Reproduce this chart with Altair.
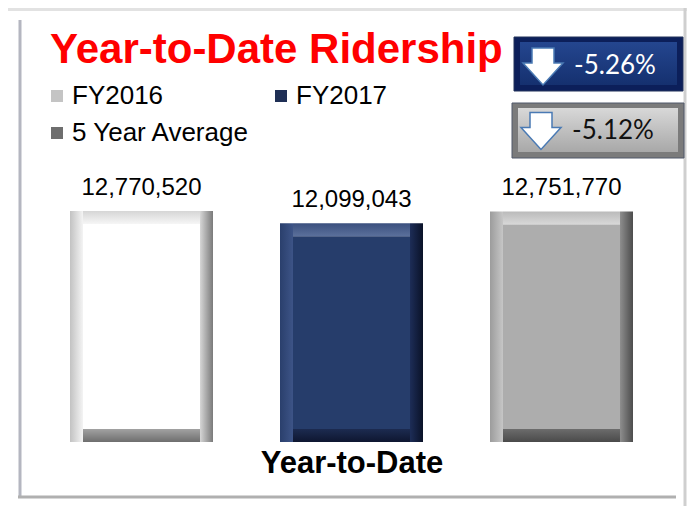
import altair as alt
import pandas as pd

# ---- data ----
series = ["FY2016", "FY2017", "5 Year Average"]
riders = [12770520, 12099043, 12751770]
title_text = "Year-to-Date Ridership"
axis_title = "Year-to-Date"
pct_labels = ["-5.26%", "-5.12%"]

# bevel colours per series: face, and (outer, inner) pairs for each edge
face_colors = ["#ffffff", "#263d6b", "#adadad"]
left_edges = [("#c2c2c2", "#f4f4f4"), ("#2a3f6c", "#3d5487"), ("#9c9c9c", "#c6c6c6")]
right_edges = [("#7a7a7a", "#d6d6d6"), ("#0a1228", "#1d2d57"), ("#4c4c4c", "#8e8e8e")]
top_edges = [("#d6d6d6", "#f6f6f6"), ("#3a4f7e", "#5b709b"), ("#bababa", "#d8d8d8")]
bottom_edges = [("#6e6e6e", "#a2a2a2"), ("#0e1630", "#1c2b50"), ("#4a4a4a", "#6c6c6c")]
legend_colors = ["#c4c4c4", "#1f2f55", "#6e6e6e"]

df = pd.DataFrame({"Series": series, "Riders": riders})
one = pd.DataFrame({"k": [0]})

FONT = "Liberation Sans"
W, H = 679, 434

xenc = alt.X(
    "Series:N", sort=series,
    scale=alt.Scale(range=[62, 625], paddingInner=0.319, paddingOuter=0),
    axis=alt.Axis(title=axis_title, labels=False, ticks=False, domain=False,
                  titleFontSize=31, titleFontWeight="bold", titleFont=FONT,
                  titleColor="black", titlePadding=6),
)
yscale = alt.Scale(domain=[0, 24000000])
yenc = alt.Y("Riders:Q", scale=yscale, axis=None, stack=None)
y0 = alt.Y(datum=0, scale=yscale, axis=None)


def col(rng, legend=None):
    return alt.Color("Series:N", sort=series,
                     scale=alt.Scale(domain=series, range=rng), legend=legend)


def grad(c1, c2, horizontal):
    if horizontal:
        return alt.Gradient(gradient="linear",
                            stops=[alt.GradientStop(color=c1, offset=0),
                                   alt.GradientStop(color=c2, offset=1)],
                            x1=0, x2=1, y1=0, y2=0)
    return alt.Gradient(gradient="linear",
                        stops=[alt.GradientStop(color=c1, offset=0),
                               alt.GradientStop(color=c2, offset=1)],
                        x1=0, x2=0, y1=0, y2=1)


legend = alt.Legend(title=None, orient="none", legendX=36, legendY=75, columns=2,
                    direction="horizontal",
                    symbolType="square", symbolSize=144, labelFontSize=26,
                    labelFont=FONT, labelColor="black", labelOffset=2,
                    labelLimit=400,
                    columnPadding=18, rowPadding=11, padding=0,
                    symbolStrokeWidth=0, symbolOpacity=1)

base = alt.Chart(df)
bar_layers = [
    # invisible layer carrying the legend
    base.mark_bar(width=0, opacity=0).encode(
        x=xenc, y=yenc, y2=alt.datum(0), color=col(legend_colors, legend))
]
for i, s in enumerate(series):
    sub = base.transform_filter(alt.datum.Series == s)
    lo, li = left_edges[i]
    ro, ri = right_edges[i]
    to, ti = top_edges[i]
    bo, bi = bottom_edges[i]
    bar_layers += [
        sub.mark_bar(width=13, xOffset=-65, fill=grad(lo, li, True)).encode(
            x=xenc, y=yenc, y2=alt.datum(0)),
        sub.mark_bar(width=13, xOffset=65, fill=grad(ri, ro, True)).encode(
            x=xenc, y=yenc, y2=alt.datum(0)),
        sub.mark_bar(width=117, y2Offset=13, fill=grad(to, ti, False)).encode(
            x=xenc, y=yenc, y2=alt.Y2("Riders:Q")),
        sub.mark_bar(width=117, yOffset=-13, fill=grad(bi, bo, False)).encode(
            x=xenc, y=y0, y2=alt.datum(0)),
    ]
face = base.mark_bar(width=117, yOffset=13, y2Offset=-13).encode(
    x=xenc, y=yenc, y2=alt.datum(0), color=col(face_colors))
labels = base.mark_text(dy=-16, baseline="alphabetic", fontSize=24, font=FONT,
                        color="black").encode(
    x=xenc, y=yenc, text=alt.Text("Riders:Q", format=","))

# ---- decorations ----
dec = alt.Chart(one)
band = dec.mark_rect(color="#e2e2e2").encode(
    x=alt.value(0), x2=alt.value(W), y=alt.value(0), y2=alt.value(3))
lline = dec.mark_rule(color="#b4b6c0", strokeWidth=3).encode(
    x=alt.value(12), y=alt.value(12), y2=alt.value(490))
rline = dec.mark_rule(color="#cfcfcf", strokeWidth=3).encode(
    x=alt.value(677), y=alt.value(0), y2=alt.value(498))
bline = dec.mark_rule(color="#b0b0b0", strokeWidth=3).encode(
    x=alt.value(10), x2=alt.value(668), y=alt.value(489))

box1o = dec.mark_rect(fill="#0c1f5a", stroke="#22325a", strokeWidth=1).encode(
    x=alt.value(506), x2=alt.value(675), y=alt.value(29), y2=alt.value(83))
box1i = dec.mark_rect(fill=grad("#24468f", "#15306f", False)).encode(
    x=alt.value(512), x2=alt.value(669), y=alt.value(34), y2=alt.value(77))
box2o = dec.mark_rect(fill="#7b7b7b", stroke="#50586a", strokeWidth=1).encode(
    x=alt.value(504), x2=alt.value(676), y=alt.value(95), y2=alt.value(150))
box2i = dec.mark_rect(fill=grad("#d8d8d8", "#a8a8a8", False)).encode(
    x=alt.value(510), x2=alt.value(670), y=alt.value(100), y2=alt.value(144))

ARROW = "M-0.55,-0.925 L0.55,-0.925 L0.55,-0.175 L1,-0.175 L0,0.925 L-1,-0.175 L-0.55,-0.175 Z"
arrow1 = dec.mark_point(shape=ARROW, size=1600, filled=True, fill="white",
                        stroke="#4a7ab4", strokeWidth=1.5, opacity=1).encode(
    x=alt.value(535), y=alt.value(58.5))
arrow2 = dec.mark_point(shape=ARROW, size=1600, filled=True, fill="white",
                        stroke="#4a7ab4", strokeWidth=1.5, opacity=1).encode(
    x=alt.value(533), y=alt.value(123))
pct1 = dec.mark_text(font="Lato", fontSize=26, color="white", align="center",
                     baseline="middle").encode(
    x=alt.value(607), y=alt.value(58), text=alt.value(pct_labels[0]))
pct2 = dec.mark_text(font="Lato", fontSize=26, color="#111111", align="center",
                     baseline="middle").encode(
    x=alt.value(605), y=alt.value(123), text=alt.value(pct_labels[1]))
title = dec.mark_text(font=FONT, fontSize=42, fontWeight="bold", color="#ff0000",
                      align="left", baseline="alphabetic").encode(
    x=alt.value(42), y=alt.value(55), text=alt.value(title_text))

chart = alt.layer(
    band, lline, rline, bline, box1o, box1i, box2o, box2i, arrow1, arrow2,
    pct1, pct2, title, *bar_layers, face, labels,
).resolve_scale(color="independent").properties(
    width=W, height=H,
    padding={"left": 0, "top": 0, "right": 0, "bottom": 64},
    autosize=alt.AutoSizeParams(type="none"),
    background="white",
).configure_view(stroke=None)

chart.save("out.html", embed_options={"renderer": "svg", "actions": False})
